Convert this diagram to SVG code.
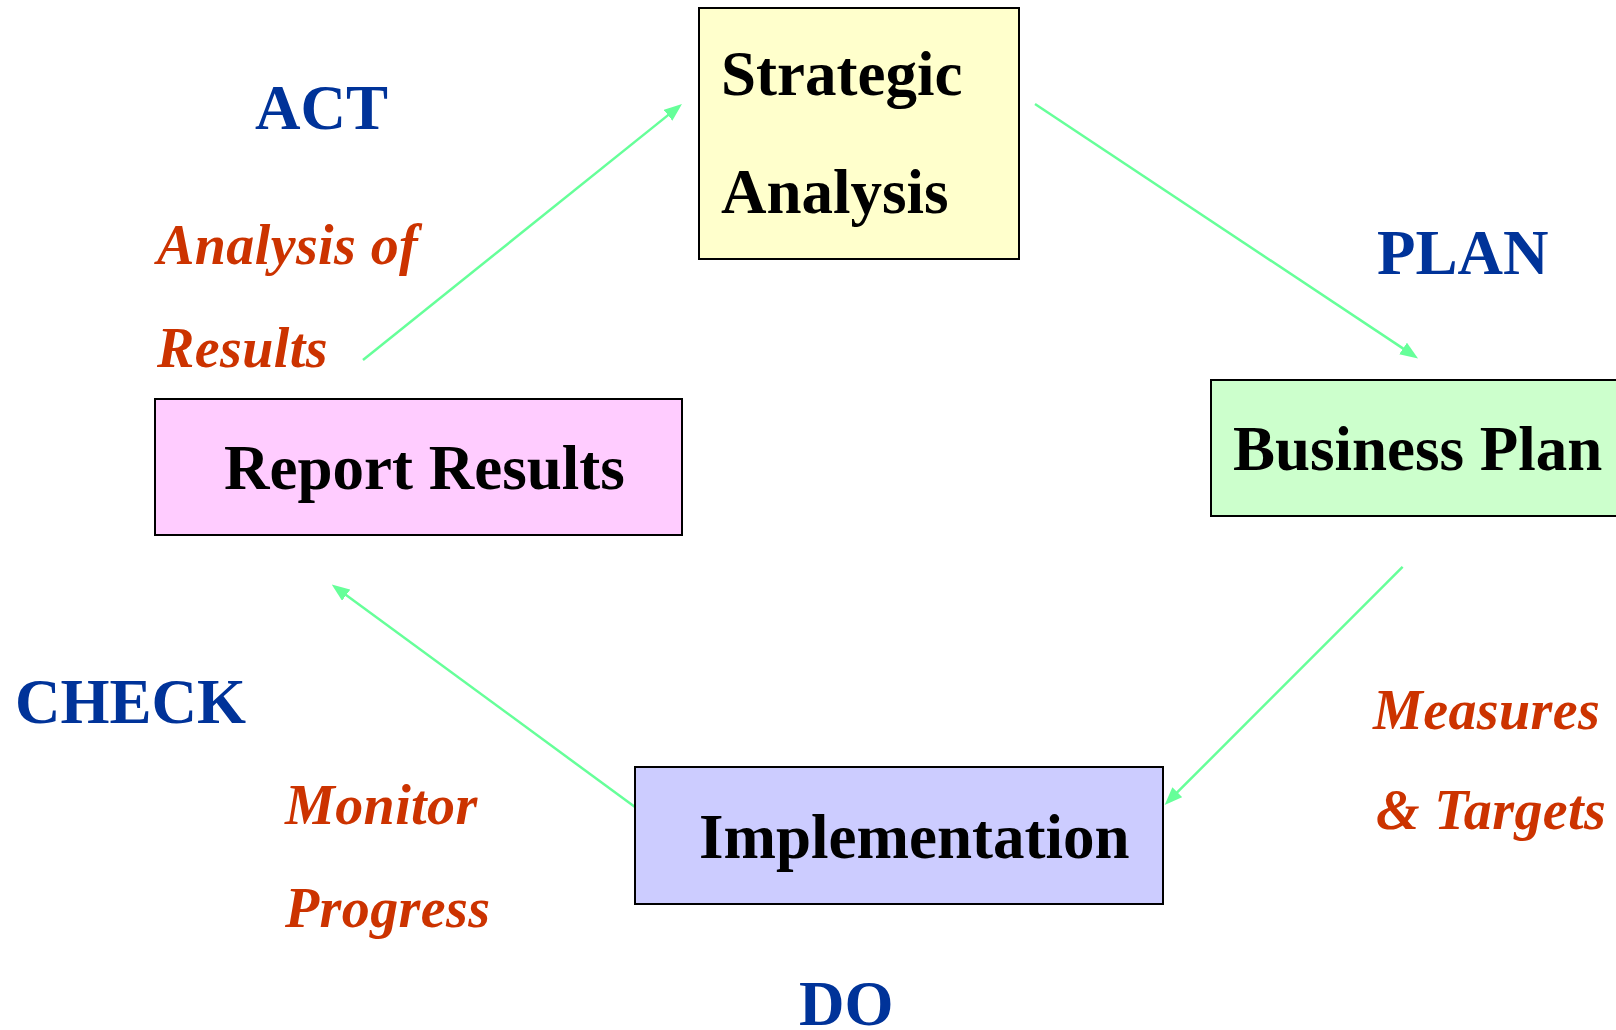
<svg xmlns="http://www.w3.org/2000/svg" width="1616" height="1030" viewBox="0 0 1616 1030">
<style>
.box{stroke:#000;stroke-width:2}
.nt{font-family:"Liberation Serif","Times New Roman",serif;font-weight:bold;font-size:63px;fill:#000}
.ph{font-family:"Liberation Serif","Times New Roman",serif;font-weight:bold;font-size:63px;fill:#003399}
.it{font-family:"Liberation Serif","Times New Roman",serif;font-weight:bold;font-style:italic;font-size:56px;fill:#CC3300;letter-spacing:0.4px}
.con{stroke:#66FF99;stroke-width:2.5;fill:none;marker-end:url(#ah)}
</style>
<defs>
<marker id="ah" markerUnits="userSpaceOnUse" markerWidth="18" markerHeight="14" refX="7" refY="7" orient="auto">
<path d="M0,0 L18,7 L0,14 z" fill="#66FF99"/>
</marker>
</defs>
<rect width="1616" height="1030" fill="#fff"/>
<g id="connectors">
<line class="con" x1="363" y1="360" x2="673.4" y2="110.9"/>
<line class="con" x1="1035" y1="104" x2="1408.9" y2="352.4"/>
<line class="con" x1="1402.6" y1="566.8" x2="1172.4" y2="797.2"/>
<line class="con" x1="635" y1="807" x2="340.6" y2="591"/>
</g>
<g id="strategic">
<rect class="box" x="699" y="8" width="320" height="251" fill="#FFFFCC"/>
<text class="nt" x="721" y="95">Strategic</text>
<text class="nt" x="721" y="213">Analysis</text>
</g>
<g id="business">
<rect class="box" x="1211" y="380" width="420" height="136" fill="#CCFFCC"/>
<text class="nt" x="1233" y="470">Business Plan</text>
</g>
<g id="report">
<rect class="box" x="155" y="399" width="527" height="136" fill="#FFCCFF"/>
<text class="nt" x="224" y="489">Report Results</text>
</g>
<g id="implementation">
<rect class="box" x="635" y="767" width="528" height="137" fill="#CCCCFF"/>
<text class="nt" x="699" y="858">Implementation</text>
</g>
<g id="labels">
<text class="ph" x="255" y="129">ACT</text>
<text class="ph" x="1377" y="274">PLAN</text>
<text class="ph" x="15" y="723">CHECK</text>
<text class="ph" x="799" y="1025">DO</text>
<text class="it" x="157" y="264">Analysis of</text>
<text class="it" x="157" y="367">Results</text>
<text class="it" x="1373" y="729">Measures</text>
<text class="it" x="1376" y="829">&amp; Targets</text>
<text class="it" x="285" y="824">Monitor</text>
<text class="it" x="285" y="927">Progress</text>
</g>
</svg>
